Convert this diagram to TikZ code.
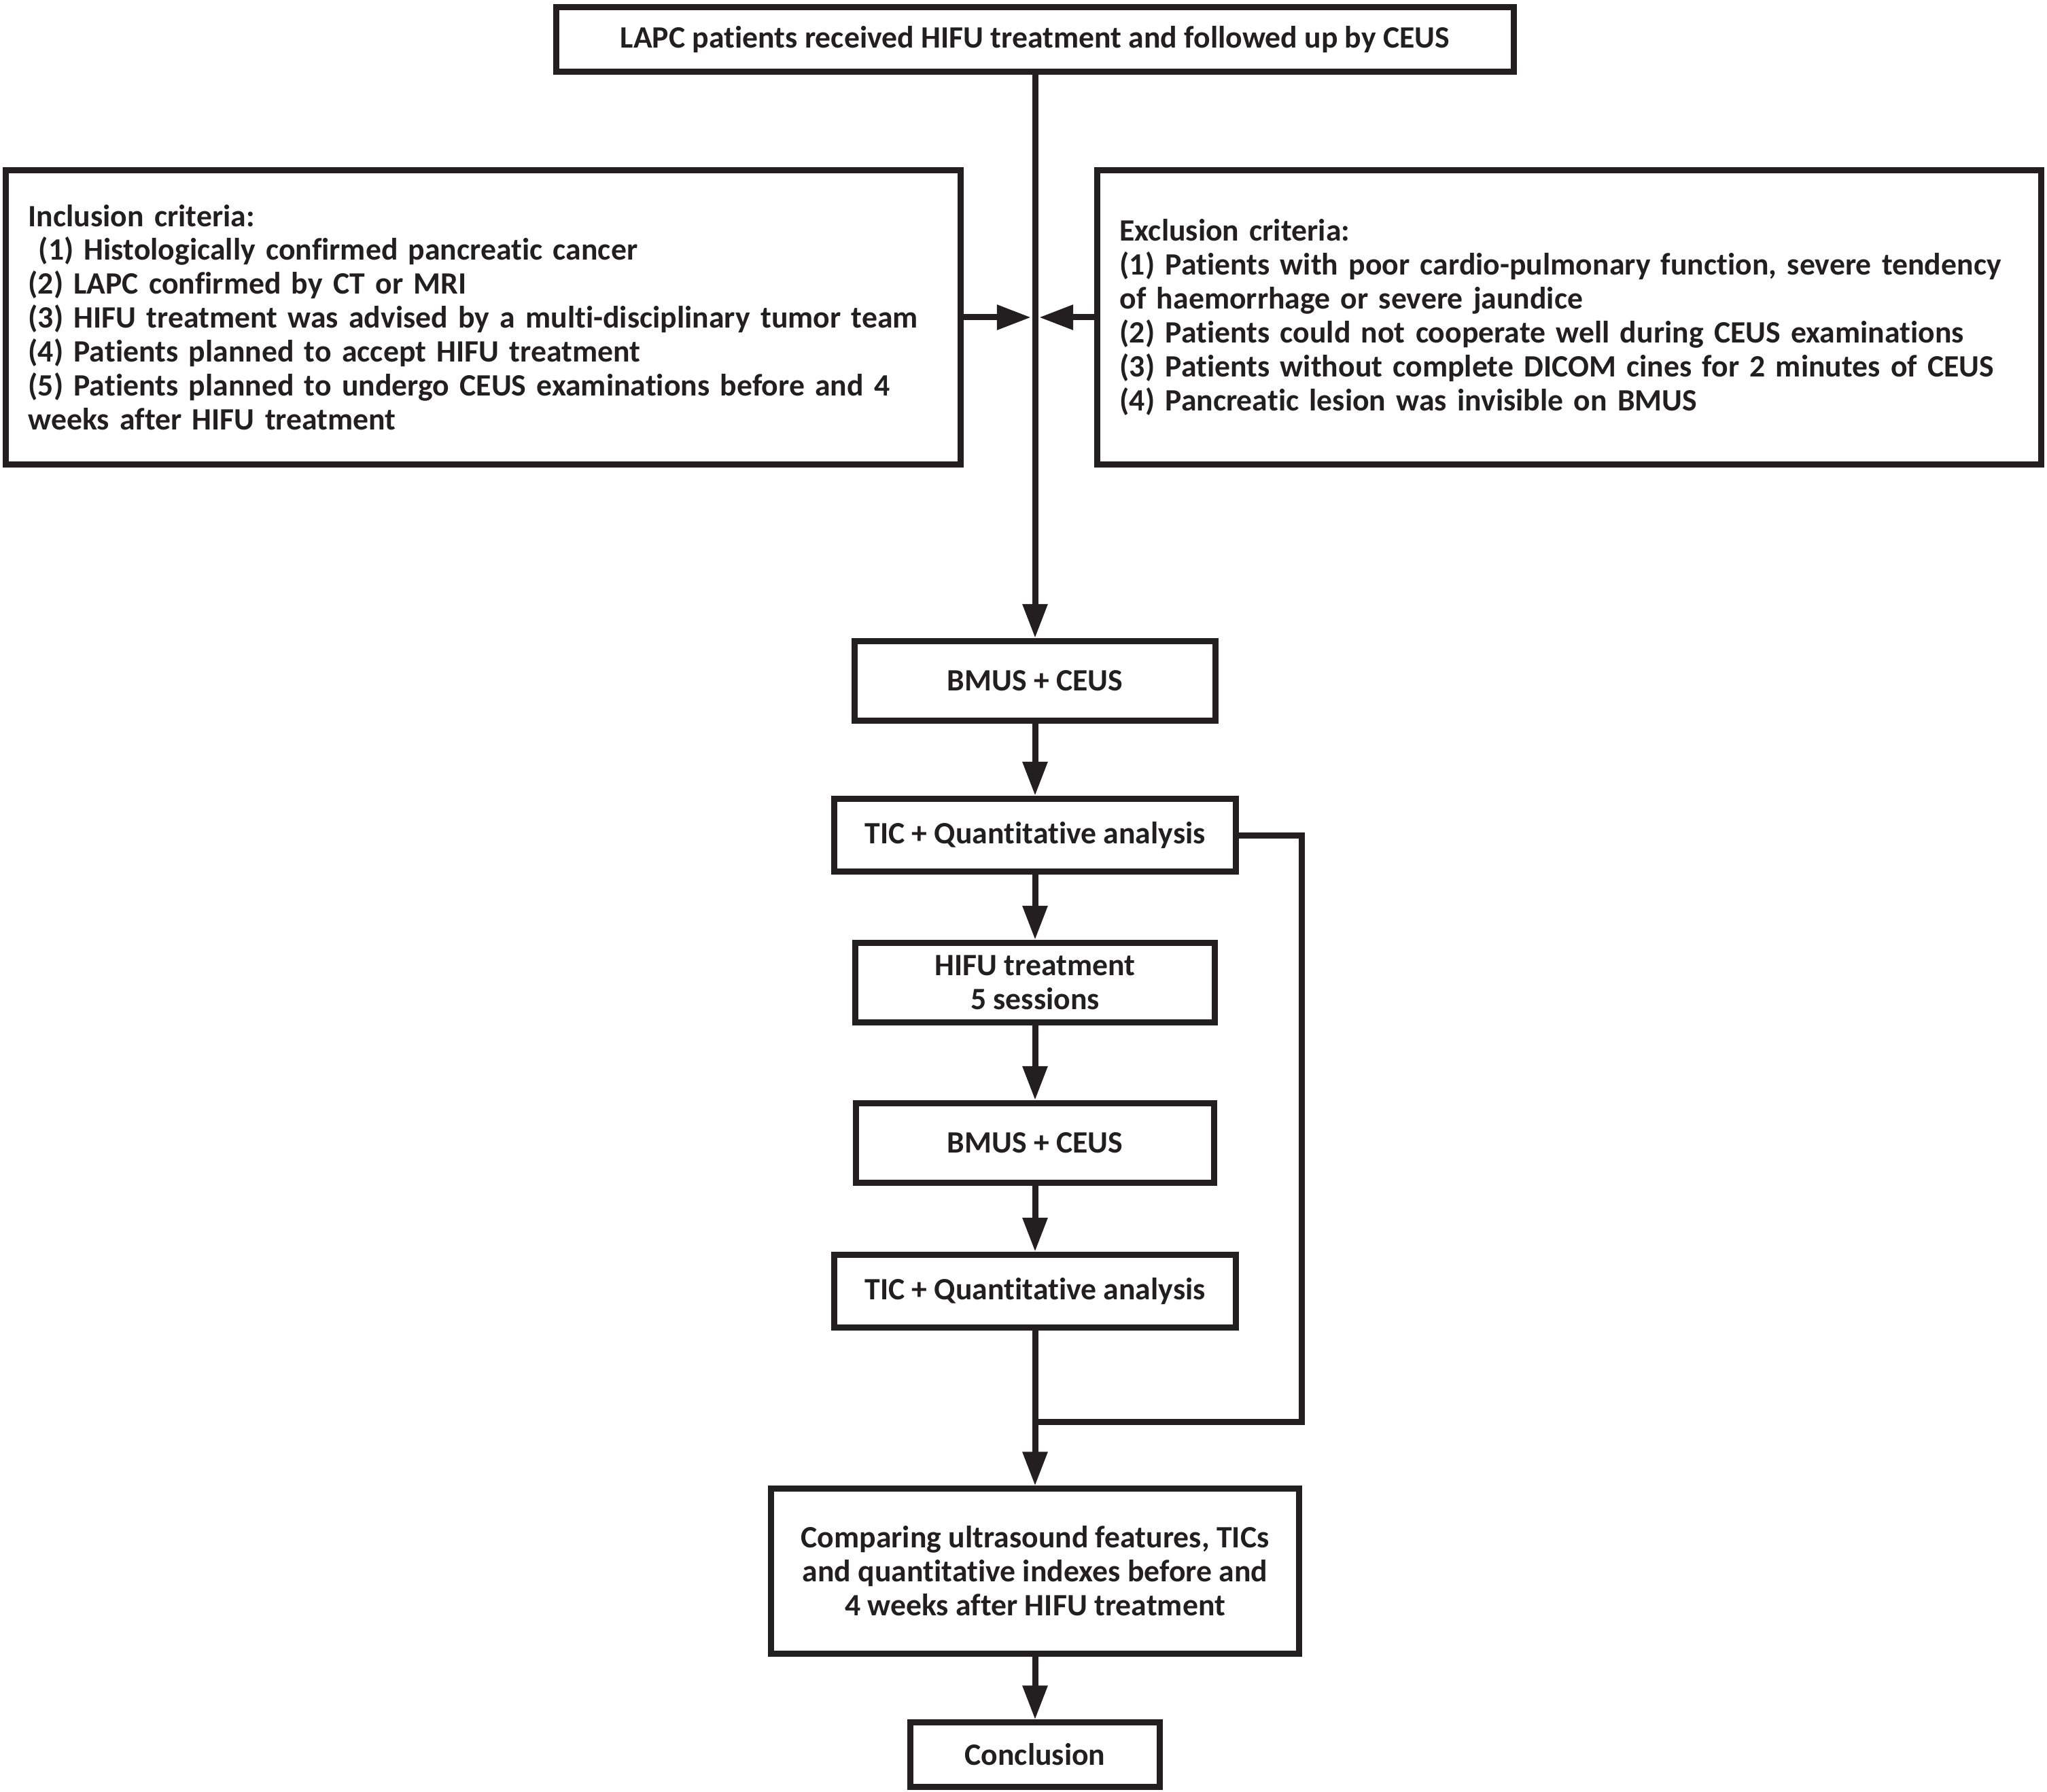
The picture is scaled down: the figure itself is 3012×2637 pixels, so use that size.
\documentclass[tikz,border=0pt]{standalone}
\usepackage{fontspec}
\setmainfont{Carlito}[Ligatures={NoCommon}]
\usetikzlibrary{arrows.meta,calc}
\definecolor{ink}{HTML}{231F20}

\begin{document}
\begin{tikzpicture}[x=0.01cm,y=-0.01cm,
		every node/.style={font=\fontsize{13}{14.2}\selectfont\bfseries, text=ink},
		stage/.style={draw=ink, line width=0.09cm, inner sep=0pt, align=center},
		crit/.style={stage, align=left, inner sep=0.33cm},
		line/.style={draw=ink, line width=0.09cm},
		arr/.style={line, -{Triangle[length=0.5cm,width=0.35cm]}}
			]
	\useasboundingbox (0,0) rectangle (3012,2637);

	% top and criteria
	\node[stage, minimum width=14.08cm, minimum height=0.94cm] (top) at (1523,58)
		{LAPC patients received HIFU treatment and followed up by CEUS};
	\node[crit, text width=13.38cm, minimum height=4.32cm] (incl) at (711,467)
		{Inclusion criteria:\\
		\ (1) Histologically confirmed pancreatic cancer\\
		(2) LAPC confirmed by CT or MRI\\
		(3) HIFU treatment was advised by a multi-disciplinary tumor team\\
		(4) Patients planned to accept HIFU treatment\\
		(5) Patients planned to undergo CEUS examinations before and 4\\
		weeks after HIFU treatment};
	\node[crit, text width=13.22cm, minimum height=4.32cm] (excl) at (2309,467)
		{Exclusion criteria:\\
		(1) Patients with poor cardio-pulmonary function, severe tendency\\
		of haemorrhage or severe jaundice\\
		(2) Patients could not cooperate well during CEUS examinations\\
		(3) Patients without complete DICOM cines for 2 minutes of CEUS\\
		(4) Pancreatic lesion was invisible on BMUS};
	\coordinate (jn) at (1523,467);

	% main column
	\node[stage, minimum width=5.30cm, minimum height=1.17cm] (bm1) at (1523,1002) {BMUS + CEUS};
	\node[stage, minimum width=5.91cm, minimum height=1.07cm] (tic1) at (1523,1229) {TIC + Quantitative analysis};
	\node[stage, minimum width=5.28cm, minimum height=1.17cm] (hifu) at (1523,1446) {HIFU treatment\\5 sessions};
	\node[stage, minimum width=5.27cm, minimum height=1.17cm] (bm2) at (1523,1682) {BMUS + CEUS};
	\node[stage, minimum width=5.91cm, minimum height=1.07cm] (tic2) at (1523,1900) {TIC + Quantitative analysis};
	\node[stage, minimum width=7.77cm, minimum height=2.42cm] (cmp) at (1523,2312)
		{Comparing ultrasound features, TICs\\and quantitative indexes before and\\4 weeks after HIFU treatment};
	\node[stage, minimum width=3.67cm, minimum height=0.94cm] (concl) at (1523,2582) {Conclusion};
	\coordinate (mrg) at (1523,2092);

	% connectors
	\draw[arr] (top) -- (bm1);
	\draw[arr] (incl.east) -- ([xshift=-0.06cm]jn);
	\draw[arr] (excl.west) -- ([xshift=0.06cm]jn);
	\draw[arr] (bm1) -- (tic1);
	\draw[arr] (tic1) -- (hifu);
	\draw[arr] (hifu) -- (bm2);
	\draw[arr] (bm2) -- (tic2);
	\draw[arr] (tic2) -- (cmp);
	\draw[line] (tic1.east) -- ++(92,0) |- (mrg);
	\draw[arr] (cmp) -- (concl);
 \end{tikzpicture}
\end{document}
